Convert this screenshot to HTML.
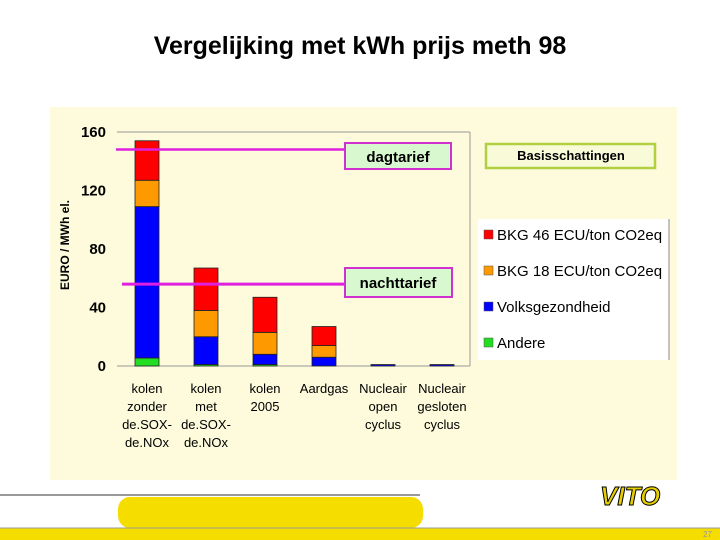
<!DOCTYPE html>
<html><head><meta charset="utf-8"><style>
body{margin:0;width:720px;height:540px;background:#fff;overflow:hidden;font-family:"Liberation Sans",sans-serif;position:relative}
.t{position:absolute;white-space:nowrap}
</style></head><body>
<div class="t" style="left:0;width:720px;text-align:center;top:32px;font-size:25px;font-weight:bold;">Vergelijking met kWh prijs meth 98</div>
<svg width="720" height="540" style="position:absolute;left:0;top:0">
<rect x="50" y="107" width="627" height="373" fill="#fdfbdc"/>
<line x1="117" y1="132" x2="470" y2="132" stroke="#999"/>
<line x1="470" y1="132" x2="470" y2="366" stroke="#999"/>
<line x1="117" y1="366" x2="470" y2="366" stroke="#999"/>
<g id="ticks" font-family="Liberation Sans" font-weight="bold" font-size="15"></g>
<text transform="translate(69,245) rotate(-90)" text-anchor="middle" font-size="12" font-weight="bold" font-family="Liberation Sans">EURO  / MWh el.</text>
<g id="bars"></g>
<g id="xl" font-family="Liberation Sans" font-size="13" text-anchor="middle"></g>
<line id="dagline" x1="116" x2="345" stroke="#e020e0" stroke-width="2.5"/>
<line id="nachtline" x1="122" x2="345" stroke="#e020e0" stroke-width="3"/>
<rect x="345" y="143" width="106" height="26" fill="#d8f8d0" stroke="#d030d0" stroke-width="2"/>
<text x="398" y="162" text-anchor="middle" font-size="15" font-weight="bold" font-family="Liberation Sans">dagtarief</text>
<rect x="345" y="268" width="107" height="29" fill="#d8f8d0" stroke="#d030d0" stroke-width="2"/>
<text x="398" y="288" text-anchor="middle" font-size="15" font-weight="bold" font-family="Liberation Sans">nachttarief</text>
<rect x="486" y="144" width="169" height="24" fill="#f8fad8" stroke="#b0d040" stroke-width="2.5"/>
<text x="571" y="160" text-anchor="middle" font-size="13" font-weight="bold" font-family="Liberation Sans">Basisschattingen</text>
<rect x="478" y="219" width="191" height="141" fill="#fff"/>
<line x1="669" y1="219" x2="669" y2="360" stroke="#888"/>
<g id="leg" font-family="Liberation Sans" font-size="15"></g>
<rect x="118" y="497" width="305" height="31" rx="12" fill="#f5dd00"/>
<line x1="0" y1="495" x2="420" y2="495" stroke="#999" stroke-width="2"/>
<rect x="0" y="528" width="720" height="12" fill="#f5dd00"/>
<line x1="0" y1="528" x2="720" y2="528" stroke="#999"/>
<text x="600" y="505" font-size="26" font-weight="bold" font-style="italic" fill="#e8d000" stroke="#000" stroke-width="1" font-family="Liberation Sans">VITO</text>
<text x="712" y="537" text-anchor="end" font-size="8" fill="#999" font-family="Liberation Sans">27</text>
</svg>
<script>
const categories=[["kolen","zonder","de.SOX-","de.NOx"],["kolen","met","de.SOX-","de.NOx"],["kolen","2005"],["Aardgas"],["Nucleair","open","cyclus"],["Nucleair","gesloten","cyclus"]];
const andere=[5.5,1,1,0,0,0];
const volks=[103.5,19,7,6,1,1];
const bkg18=[18,18,15,8,0,0];
const bkg46=[27,29,24,13,0,0];
const yTicks=[0,40,80,120,160];
const dagtarief=148;
const nachttarief=56;
const seriesNames=["BKG 46 ECU/ton CO2eq","BKG 18 ECU/ton CO2eq","Volksgezondheid","Andere"];
const colors=["#ff0000","#ff9900","#0000ff","#22dd22"];
const NS="http://www.w3.org/2000/svg";
const y=v=>366-v*234/160;
const x=i=>147+i*59;
const tg=document.getElementById('ticks');
yTicks.forEach(v=>{const t=document.createElementNS(NS,'text');t.setAttribute('x',106);t.setAttribute('y',y(v)+5);t.setAttribute('text-anchor','end');t.textContent=v;


tg.appendChild(t);});
const bg=document.getElementById('bars');
const stack=[andere,volks,bkg18,bkg46];const sc=["#22dd22","#0000ff","#ff9900","#ff0000"];const sn=["andere","volksgezondheid","bkg18","bkg46"];
categories.forEach((c,i)=>{let b=0;stack.forEach((s,k)=>{const v=s[i];if(v<=0)return;const r=document.createElementNS(NS,'rect');r.setAttribute('x',x(i)-12);r.setAttribute('width',24);r.setAttribute('y',y(b+v));r.setAttribute('height',y(b)-y(b+v));r.setAttribute('fill',sc[k]);r.setAttribute('stroke','#222');r.setAttribute('stroke-width','0.8');


bg.appendChild(r);b+=v;});
const xl=document.getElementById('xl');c.forEach((l,j)=>{const t=document.createElementNS(NS,'text');t.setAttribute('x',x(i));t.setAttribute('y',393+j*18);t.textContent=l;


xl.appendChild(t);});});
const d=document.getElementById('dagline');d.setAttribute('y1',y(dagtarief));d.setAttribute('y2',y(dagtarief));
const n=document.getElementById('nachtline');n.setAttribute('y1',y(nachttarief));n.setAttribute('y2',y(nachttarief));
const lg=document.getElementById('leg');
seriesNames.forEach((s,i)=>{const yy=240+i*36;const r=document.createElementNS(NS,'rect');r.setAttribute('x',484);r.setAttribute('y',yy-10);r.setAttribute('width',9);r.setAttribute('height',9);r.setAttribute('fill',colors[i]);r.setAttribute('stroke','#555');r.setAttribute('stroke-width','0.5');


lg.appendChild(r);const t=document.createElementNS(NS,'text');t.setAttribute('x',497);t.setAttribute('y',yy);t.textContent=s;


lg.appendChild(t);});
</script>
</body></html>
